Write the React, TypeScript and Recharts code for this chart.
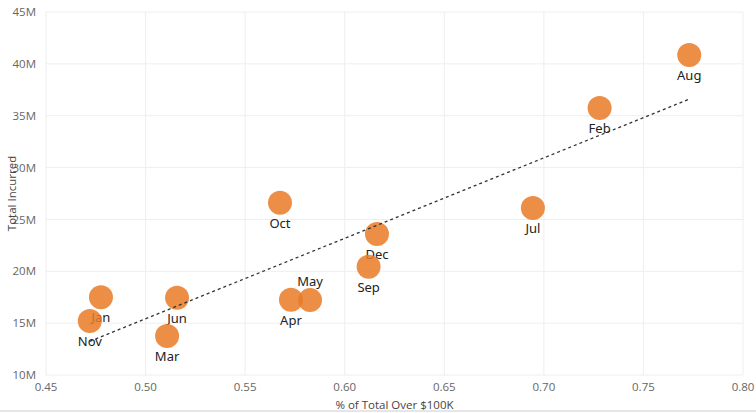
import {
  ScatterChart,
  Scatter,
  XAxis,
  YAxis,
  CartesianGrid,
} from "recharts";

const months = ["Aug", "Feb", "Jul", "Oct", "Dec", "Sep", "May", "Apr", "Jun", "Jan", "Nov", "Mar"];
const pctOver100k = [0.773, 0.728, 0.6945, 0.5675, 0.6162, 0.612, 0.5826, 0.573, 0.5158, 0.4776, 0.472, 0.5108];
const totalIncurred = [40.86, 35.75, 26.1, 26.6, 23.6, 20.43, 17.22, 17.25, 17.45, 17.5, 15.2, 13.75];

const trendX = [0.472, 0.773];
const trendY = [13.25, 36.6];

const xTicks = [0.45, 0.5, 0.55, 0.6, 0.65, 0.7, 0.75, 0.8];
const yTicks = [10, 15, 20, 25, 30, 35, 40, 45];

// labels that sit above their mark instead of below
const labelsAbove = ["May"];

const points = months.map((m, i) => ({ name: m, x: pctOver100k[i], y: totalIncurred[i] }));
const trend = trendX.map((x, i) => ({ x, y: trendY[i] }));

const tickStyle = { fill: "#666", fontSize: 11.5, fontFamily: "Open Sans" };

function Dot(props: any) {
  const { cx, cy, payload } = props;
  const above = labelsAbove.includes(payload.name);
  return (
    <g>
      <circle cx={cx} cy={cy} r={12} fill="#E97A26" fillOpacity={0.85} />
      <text
        x={cx}
        y={above ? cy - 14 : cy + 25}
        textAnchor="middle"
        fontSize={13}
        fontFamily="Noto Sans"
        fill="#222"
      >
        {payload.name}
      </text>
    </g>
  );
}

export default function App() {
  return (
    <div style={{ position: "absolute", left: 0, top: 0, width: 756, height: 413 }}>
      <ScatterChart
        width={756}
        height={413}
        margin={{ top: 12, right: 13, bottom: 0, left: 0 }}
      >
        <CartesianGrid stroke="#eeeeee" />
        <XAxis
          type="number"
          dataKey="x"
          domain={[0.45, 0.8]}
          ticks={xTicks}
          tickFormatter={(v: number) => v.toFixed(2)}
          tick={tickStyle}
          axisLine={false}
          tickLine={false}
          tickMargin={2}
          height={38}
          label={{
            value: "% of Total Over $100K",
            position: "insideBottom",
            offset: 4,
            fill: "#444",
            fontSize: 11.5,
            fontFamily: "Open Sans",
          }}
        />
        <YAxis
          type="number"
          dataKey="y"
          domain={[10, 45]}
          ticks={yTicks}
          tickFormatter={(v: number) => `${v}M`}
          tick={tickStyle}
          axisLine={false}
          tickLine={false}
          tickMargin={4}
          width={46}
          label={{
            value: "Total Incurred",
            angle: -90,
            position: "insideLeft",
            offset: 12,
            fill: "#444",
            fontSize: 11.5,
            fontFamily: "Open Sans",
            style: { textAnchor: "middle" },
          }}
        />
        <Scatter data={points} shape={Dot} isAnimationActive={false} />
        <Scatter
          data={trend}
          line={{ stroke: "#333", strokeWidth: 1.3, strokeDasharray: "3 3" }}
          shape={() => null}
          isAnimationActive={false}
        />
      </ScatterChart>
      <div
        style={{
          position: "absolute",
          left: 0,
          top: 410,
          width: 756,
          height: 2,
          background: "#e6e6e6",
        }}
      />
    </div>
  );
}
